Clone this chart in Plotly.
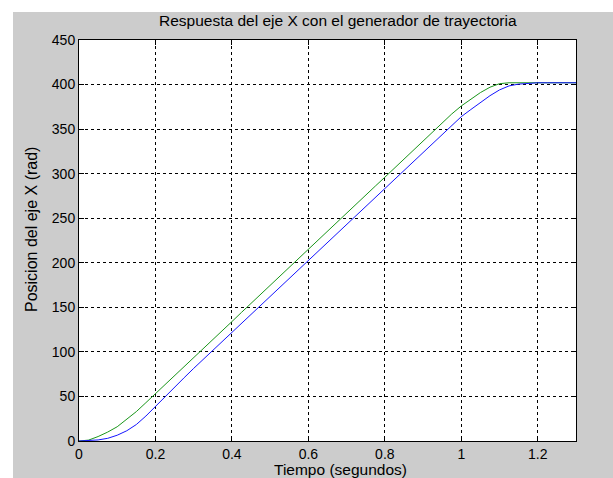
import plotly.graph_objects as go

# Time base (s)
tiempo = [0.000, 0.025, 0.050, 0.075, 0.100, 0.125, 0.150, 0.175, 0.200, 0.225,
          0.250, 0.275, 0.300, 0.325, 0.350, 0.375, 0.400, 0.425, 0.450, 0.475,
          0.500, 0.525, 0.550, 0.575, 0.600, 0.625, 0.650, 0.675, 0.700, 0.725,
          0.750, 0.775, 0.800, 0.825, 0.850, 0.875, 0.900, 0.925, 0.950, 0.975,
          1.000, 1.025, 1.050, 1.075, 1.100, 1.125, 1.150, 1.175, 1.200, 1.225,
          1.250, 1.275, 1.300]

# Trajectory generator reference (green)
referencia = [0, 1, 5, 10, 16, 24, 33, 43, 53, 63,
              73.5, 83.6, 93.7, 103.8, 114, 124, 134, 144.3, 154.5, 164.6,
              174.7, 184.8, 195, 205, 215, 225.3, 235.5, 245.6, 255.7, 265.8,
              276, 286, 296, 306.3, 316.5, 326.6, 336.7, 346.8, 357, 367,
              376, 384, 391, 397, 401, 402, 402, 402, 402, 402,
              402, 402, 402]

# Measured X-axis position (blue)
posicion = [0, 0.3, 1.2, 3, 6.5, 11.5, 18.5, 28, 39, 50,
            60.5, 71, 81.5, 91.6, 101.8, 112, 122, 132, 142, 152,
            162.5, 172.6, 182.8, 193, 203, 213, 223, 233.4, 243.5, 253.6,
            263.8, 274, 284, 294, 304, 314.4, 324.5, 334.6, 344.8, 355,
            364, 372, 380, 387.5, 394, 398.5, 400.5, 401.5, 402, 402,
            402, 402, 402]

x_ticks = [0, 0.2, 0.4, 0.6, 0.8, 1.0, 1.2]
x_tick_text = ["0", "0.2", "0.4", "0.6", "0.8", "1", "1.2"]
y_ticks = [0, 50, 100, 150, 200, 250, 300, 350, 400, 450]

FONT = "Liberation Sans, Arial, sans-serif"

fig = go.Figure()
fig.add_trace(go.Scatter(x=tiempo, y=referencia, mode="lines",
                         line=dict(color="#1a961a", width=1), showlegend=False))
fig.add_trace(go.Scatter(x=tiempo, y=posicion, mode="lines",
                         line=dict(color="#1515ff", width=1), showlegend=False))

axis_common = dict(
    showline=True, linecolor="black", linewidth=1, mirror="ticks",
    ticks="inside", ticklen=5, tickcolor="black", tickwidth=1,
    showgrid=True, gridcolor="black", gridwidth=1, griddash="3px,3px",
    zeroline=False, tickfont=dict(family=FONT, size=14, color="black"),
)

fig.update_xaxes(range=[0, 1.3], tickvals=x_ticks, ticktext=x_tick_text, **axis_common)
fig.update_yaxes(range=[0, 450], tickvals=y_ticks, **axis_common)

L, R, T, B = 79, 37, 40, 37
W, H = 613, 478
pw, ph = W - L - R, H - T - B


def px(x):
    return (x - L) / pw


def py(y):
    return (H - B - y) / ph


shapes = [
    # white strips at the top and left edges of the figure
    dict(type="rect", xref="paper", yref="paper", x0=px(0), x1=px(W), y0=py(12), y1=py(0),
         fillcolor="white", line=dict(width=0), layer="below"),
    dict(type="rect", xref="paper", yref="paper", x0=px(0), x1=px(13), y0=py(H), y1=py(0),
         fillcolor="white", line=dict(width=0), layer="below"),
]

annotations = [
    dict(text="Respuesta del eje X con el generador de trayectoria", xref="paper", yref="paper",
         x=px(338), y=py(20), showarrow=False, xanchor="center", yanchor="middle",
         font=dict(family=FONT, size=15.5, color="black")),
    dict(text="Tiempo (segundos)", xref="paper", yref="paper",
         x=px(340), y=py(469), showarrow=False, xanchor="center", yanchor="middle",
         font=dict(family=FONT, size=15.5, color="black")),
    dict(text="Posicion del eje X (rad)", xref="paper", yref="paper", textangle=-90,
         x=px(31), y=py(230), showarrow=False, xanchor="center", yanchor="middle",
         font=dict(family=FONT, size=16, color="black")),
]

fig.update_layout(
    width=W, height=H,
    margin=dict(l=L, r=R, t=T, b=B, pad=0),
    paper_bgcolor="#cccccc", plot_bgcolor="white",
    shapes=shapes, annotations=annotations,
)

fig.write_html("out.html")
